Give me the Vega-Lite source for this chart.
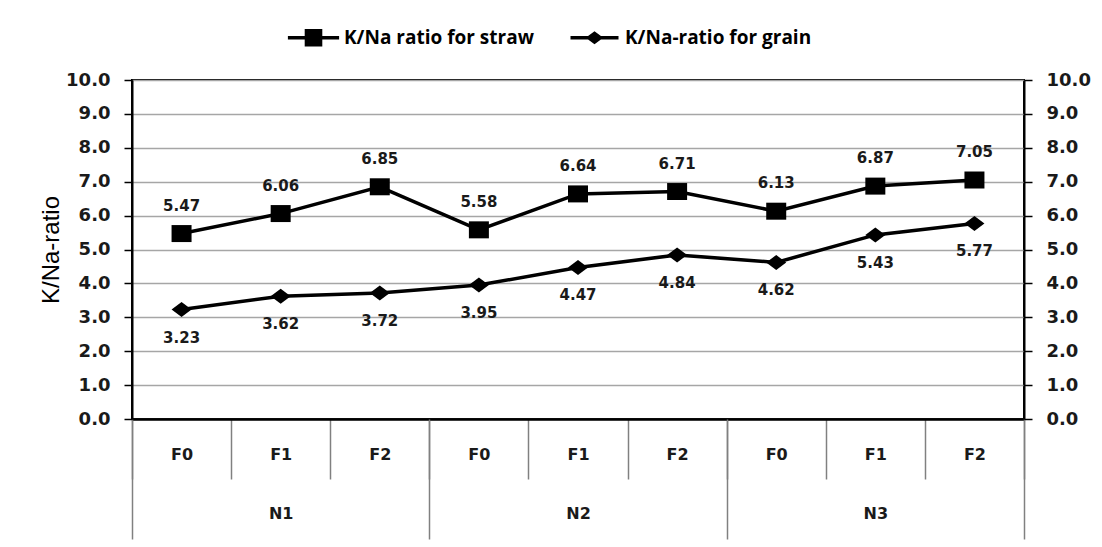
{
  "$schema": "https://vega.github.io/schema/vega-lite/v6.json",
  "padding": {"left": 39, "top": 28, "right": 10, "bottom": 5},
  "background": "white",
  "config": {
    "view": {"stroke": "black", "strokeWidth": 2},
    "axis": {"labelFont": "DejaVu Sans", "labelFontWeight": "bold", "labelColor": "#1a1a1a", "labelOverlap": false}
  },
  "data": {"values": [
    {"N": "N1", "F": "F0", "cat": "N1 F0", "series": "K/Na ratio for straw", "value": 5.47},
    {"N": "N1", "F": "F1", "cat": "N1 F1", "series": "K/Na ratio for straw", "value": 6.06},
    {"N": "N1", "F": "F2", "cat": "N1 F2", "series": "K/Na ratio for straw", "value": 6.85},
    {"N": "N2", "F": "F0", "cat": "N2 F0", "series": "K/Na ratio for straw", "value": 5.58},
    {"N": "N2", "F": "F1", "cat": "N2 F1", "series": "K/Na ratio for straw", "value": 6.64},
    {"N": "N2", "F": "F2", "cat": "N2 F2", "series": "K/Na ratio for straw", "value": 6.71},
    {"N": "N3", "F": "F0", "cat": "N3 F0", "series": "K/Na ratio for straw", "value": 6.13},
    {"N": "N3", "F": "F1", "cat": "N3 F1", "series": "K/Na ratio for straw", "value": 6.87},
    {"N": "N3", "F": "F2", "cat": "N3 F2", "series": "K/Na ratio for straw", "value": 7.05},
    {"N": "N1", "F": "F0", "cat": "N1 F0", "series": "K/Na-ratio for grain", "value": 3.23},
    {"N": "N1", "F": "F1", "cat": "N1 F1", "series": "K/Na-ratio for grain", "value": 3.62},
    {"N": "N1", "F": "F2", "cat": "N1 F2", "series": "K/Na-ratio for grain", "value": 3.72},
    {"N": "N2", "F": "F0", "cat": "N2 F0", "series": "K/Na-ratio for grain", "value": 3.95},
    {"N": "N2", "F": "F1", "cat": "N2 F1", "series": "K/Na-ratio for grain", "value": 4.47},
    {"N": "N2", "F": "F2", "cat": "N2 F2", "series": "K/Na-ratio for grain", "value": 4.84},
    {"N": "N3", "F": "F0", "cat": "N3 F0", "series": "K/Na-ratio for grain", "value": 4.62},
    {"N": "N3", "F": "F1", "cat": "N3 F1", "series": "K/Na-ratio for grain", "value": 5.43},
    {"N": "N3", "F": "F2", "cat": "N3 F2", "series": "K/Na-ratio for grain", "value": 5.77}
  ]},
  "width": 892,
  "height": 339,
  "resolve": {"scale": {"x": "independent", "y": "independent"}, "axis": {"x": "independent", "y": "independent"}},
  "layer": [
    {
      "mark": {"type": "line", "color": "black", "strokeWidth": 3.5},
      "encoding": {
        "detail": {"field": "series"},
        "x": {"field": "cat", "type": "nominal", "sort": null,
              "scale": {"type": "band", "paddingInner": 0, "paddingOuter": 0},
              "axis": {"title": null, "orient": "bottom", "labelExpr": "substring(datum.label, 3)",
                       "tickBand": "extent", "tickSize": 60, "tickColor": "#808080", "tickWidth": 1.5,
                       "labelPadding": -25, "labelBaseline": "middle", "labelFontSize": 16, "labelAngle": 0,
                       "domainColor": "black", "domainWidth": 2.5, "grid": false}},
        "y": {"field": "value", "type": "quantitative", "scale": {"domain": [0, 10], "nice": false},
              "axis": {"title": "K/Na-ratio", "titleFont": "Liberation Sans", "titleFontSize": 24,
                       "titleFontWeight": "normal", "titleColor": "black", "titlePadding": 2,
                       "orient": "left",
                       "values": [0,1,2,3,4,5,6,7,8,9,10], "format": ".1f",
                       "labelFontSize": 18, "labelPadding": 14,
                       "tickSize": 8, "tickColor": "black", "tickWidth": 1.5,
                       "domainColor": "black", "domainWidth": 2,
                       "grid": true, "gridColor": "#a6a6a6", "gridWidth": 1.5}}
      }
    },
    {
      "transform": [{"filter": "datum.series === 'K/Na ratio for straw'"}],
      "mark": {"type": "point", "filled": true, "opacity": 1, "color": "black", "size": 400,
               "shape": "M-1,-0.85H1V0.85H-1Z"},
      "encoding": {
        "x": {"field": "cat", "type": "nominal", "sort": null, "axis": null,
              "scale": {"type": "band", "paddingInner": 0, "paddingOuter": 0}},
        "y": {"field": "value", "type": "quantitative", "axis": null, "scale": {"domain": [0, 10], "nice": false}}
      }
    },
    {
      "transform": [{"filter": "datum.series === 'K/Na-ratio for grain'"}],
      "mark": {"type": "point", "filled": true, "opacity": 1, "color": "black", "size": 400,
               "shape": "M-1,0L0,-0.75L1,0L0,0.75Z"},
      "encoding": {
        "x": {"field": "cat", "type": "nominal", "sort": null, "axis": null,
              "scale": {"type": "band", "paddingInner": 0, "paddingOuter": 0}},
        "y": {"field": "value", "type": "quantitative", "axis": null, "scale": {"domain": [0, 10], "nice": false}}
      }
    },
    {
      "transform": [{"filter": "datum.series === 'K/Na ratio for straw'"}],
      "mark": {"type": "text", "dy": -28, "font": "DejaVu Sans", "fontWeight": "bold", "fontSize": 15, "color": "#1a1a1a"},
      "encoding": {
        "x": {"field": "cat", "type": "nominal", "sort": null, "axis": null,
              "scale": {"type": "band", "paddingInner": 0, "paddingOuter": 0}},
        "y": {"field": "value", "type": "quantitative", "axis": null, "scale": {"domain": [0, 10], "nice": false}},
        "text": {"field": "value", "type": "quantitative", "format": ".2f"}
      }
    },
    {
      "transform": [{"filter": "datum.series === 'K/Na-ratio for grain'"}],
      "mark": {"type": "text", "dy": 28, "font": "DejaVu Sans", "fontWeight": "bold", "fontSize": 15, "color": "#1a1a1a"},
      "encoding": {
        "x": {"field": "cat", "type": "nominal", "sort": null, "axis": null,
              "scale": {"type": "band", "paddingInner": 0, "paddingOuter": 0}},
        "y": {"field": "value", "type": "quantitative", "axis": null, "scale": {"domain": [0, 10], "nice": false}},
        "text": {"field": "value", "type": "quantitative", "format": ".2f"}
      }
    },
    {
      "mark": {"type": "point", "filled": true, "opacity": 0, "color": "black", "size": 10},
      "encoding": {
        "x": {"field": "cat", "type": "nominal", "sort": null, "axis": null,
              "scale": {"type": "band", "paddingInner": 0, "paddingOuter": 0}},
        "y": {"field": "value", "type": "quantitative", "axis": null, "scale": {"domain": [0, 10], "nice": false}},
        "shape": {"field": "series", "type": "nominal",
                  "scale": {"domain": ["K/Na ratio for straw", "K/Na-ratio for grain"],
                            "range": ["M-3.2,-0.22H3.2V0.22H-3.2ZM-1.1,-1.1H1.1V1.1H-1.1Z", "M-3,-0.22H3V0.22H-3ZM-1.1,0L0,-0.8L1.1,0L0,0.8Z"]},
                  "legend": {"title": null, "orient": "none", "direction": "horizontal",
                             "legendX": 172, "legendY": -52,
                             "symbolSize": 256, "symbolOpacity": 1, "symbolFillColor": "black",
                             "symbolStrokeWidth": 0,
                             "labelFont": "Open Sans", "labelFontWeight": "bold", "labelFontSize": 19,
                             "labelColor": "black", "labelOffset": 21, "labelLimit": 400, "columnPadding": 36}}
      }
    },
    {
      "mark": {"type": "point", "opacity": 0},
      "encoding": {
        "x": {"field": "N", "type": "nominal", "sort": null,
              "scale": {"type": "band", "paddingInner": 0, "paddingOuter": 0},
              "axis": {"title": null, "orient": "bottom", "tickBand": "extent", "tickSize": 120,
                       "tickColor": "#808080", "tickWidth": 1.5, "labelPadding": -26,
                       "labelBaseline": "middle", "labelFontSize": 16, "labelAngle": 0,
                       "domain": false, "grid": false}},
        "y": {"field": "value", "type": "quantitative", "scale": {"domain": [0, 10], "nice": false},
              "axis": {"title": null, "orient": "right", "values": [0,1,2,3,4,5,6,7,8,9,10], "format": ".1f",
                       "labelFontSize": 18, "labelPadding": 14, "tickSize": 8, "tickColor": "black",
                       "tickWidth": 1.5, "domainColor": "black", "domainWidth": 2, "grid": false}}
      }
    }
  ]
}
